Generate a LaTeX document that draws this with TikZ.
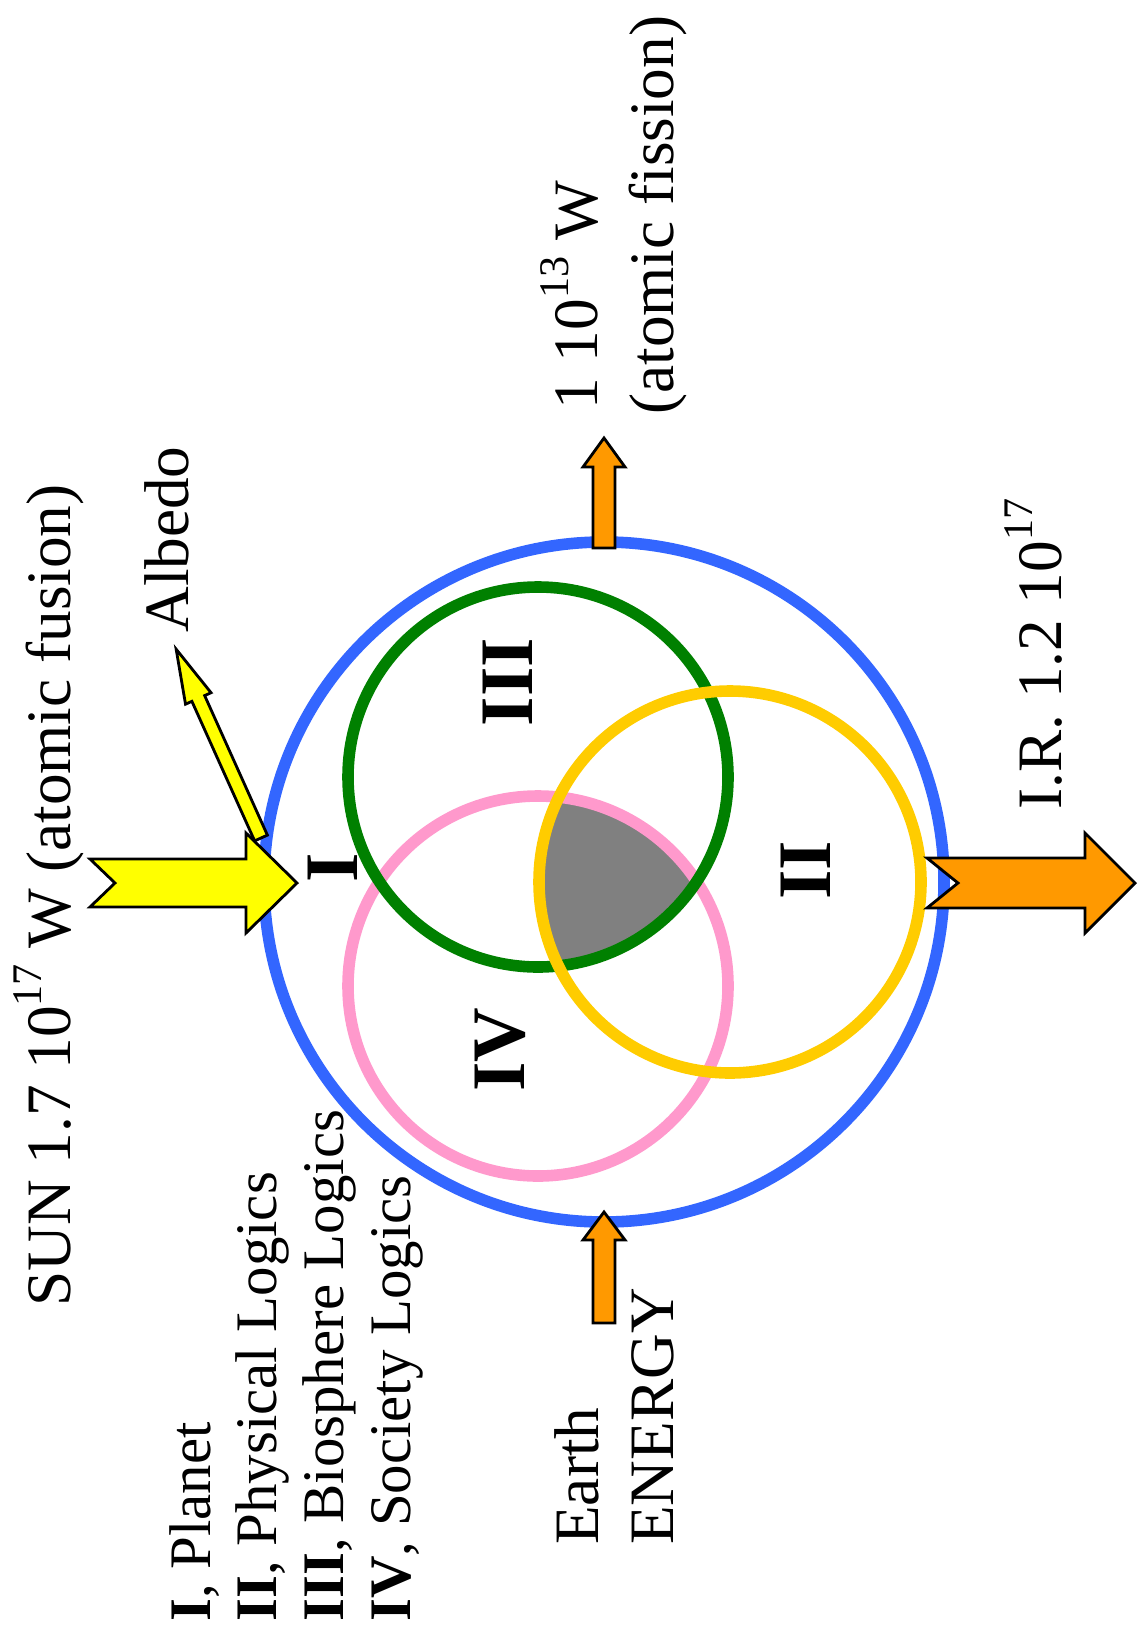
\documentclass[tikz,border=0pt]{standalone}
\usepackage{fontspec}
\setmainfont{Liberation Serif}
\definecolor{ringblue}{RGB}{51,102,255}
\definecolor{ringgreen}{RGB}{0,128,0}
\definecolor{ringgold}{RGB}{255,204,0}
\definecolor{ringpink}{RGB}{255,153,204}
\definecolor{coregray}{RGB}{128,128,128}
\definecolor{coreline}{RGB}{96,86,0}
\definecolor{sunyellow}{RGB}{255,255,0}
\definecolor{heatorange}{RGB}{255,153,0}
\newcommand{\pow}[1]{\raisebox{0.45em}{\fontsize{24}{24}\selectfont #1}}

\begin{document}
\begin{tikzpicture}[
    x=0.02cm, y=0.02cm,
    lbl/.style={font=\fontsize{36}{43}\selectfont, inner sep=0pt, rotate=90, anchor=base west},
    legend/.style={lbl, font=\fontsize{33.5}{40}\selectfont},
    zone/.style={font=\fontsize{43}{50}\selectfont\bfseries, inner sep=0pt, rotate=90},
    ring/.style={line width=6.6pt},
    blockarr/.style={draw=black, line width=1.6pt, miter limit=10},
    coreedge/.style={draw=coreline, line width=1.2pt}
]
    \useasboundingbox (0,0) rectangle (1139,-1639);

    % centres of the four spheres
    \coordinate (planet) at (604,-882);
    \coordinate (bio) at (538,-777);
    \coordinate (soc) at (538,-986);
    \coordinate (phys) at (730,-882);

    % common core of II, III and IV
    \begin{scope}
        \clip (bio) circle (190);
        \clip (soc) circle (190);
        \fill[coregray] (phys) circle (191);
    \end{scope}
    \begin{scope}
        \clip (bio) circle (190); \clip (soc) circle (190);
        \draw[coreedge] (phys) circle (191);
    \end{scope}
    \begin{scope}
        \clip (bio) circle (190); \clip (phys) circle (191);
        \draw[coreedge] (soc) circle (190);
    \end{scope}
    \begin{scope}
        \clip (soc) circle (190); \clip (phys) circle (191);
        \draw[coreedge] (bio) circle (190);
    \end{scope}

    \draw[ring, ringblue] (planet) circle (340);
    \draw[ring, ringpink] (soc) circle (190);
    \draw[ring, ringgreen] (bio) circle (190);
    \draw[ring, ringgold] (phys) circle (191);

    % energy flows
    \begin{scope}[shift={(261,-838)}, rotate=114.2]
        \draw[blockarr, fill=sunyellow] (0,-7) -- (153,-7) -- (153,-14) -- (207,0)
            -- (153,14) -- (153,7) -- (0,7) -- cycle;
    \end{scope}
    \draw[blockarr, fill=sunyellow] (90,-859) -- (246,-859) -- (246,-833) -- (297,-883)
        -- (246,-933) -- (246,-907) -- (90,-907) -- (115,-883) -- cycle;
    \draw[blockarr, fill=heatorange] (927,-858) -- (1085,-858) -- (1085,-833) -- (1135,-883)
        -- (1085,-933) -- (1085,-908) -- (927,-908) -- (958,-883) -- cycle;
    \draw[blockarr, fill=heatorange] (593,-548) -- (593,-467) -- (583,-467) -- (604,-438)
        -- (625,-467) -- (615,-467) -- (615,-548) -- cycle;
    \draw[blockarr, fill=heatorange] (593,-1323) -- (593,-1240) -- (583,-1240) -- (604,-1212)
        -- (625,-1240) -- (615,-1240) -- (615,-1323) -- cycle;

    % labels
    \node[lbl] (sun) at (70,-1307) {SUN 1.7 10\pow{17} W (atomic fusion)};
    \node[lbl] (albedo) at (188,-633) {Albedo};
    \node[lbl] (fission1) at (597,-410) {1 10\pow{13} W};
    \node[lbl] (fission2) at (673,-415) {(atomic fission)};
    \node[lbl] (ir) at (1061,-810) {I.R. 1.2 10\pow{17}};
    \node[lbl] (earth) at (598,-1545) {Earth};
    \node[lbl] (energy) at (673,-1545) {ENERGY};

    \node[zone] (zoneI) at (333,-868) {I};
    \node[zone] (zoneII) at (806,-870) {II};
    \node[zone] (zoneIII) at (508,-682) {III};
    \node[zone] (zoneIV) at (500,-1050) {IV};

    % legend
    \node[legend] (legI) at (210,-1622) {\textbf{I}, Planet};
    \node[legend] (legII) at (276,-1622) {\textbf{II}, Physical Logics};
    \node[legend] (legIII) at (343,-1622) {\textbf{III}, Biosphere Logics};
    \node[legend] (legIV) at (410,-1622) {\textbf{IV}, Society Logics};
\end{tikzpicture}
\end{document}
